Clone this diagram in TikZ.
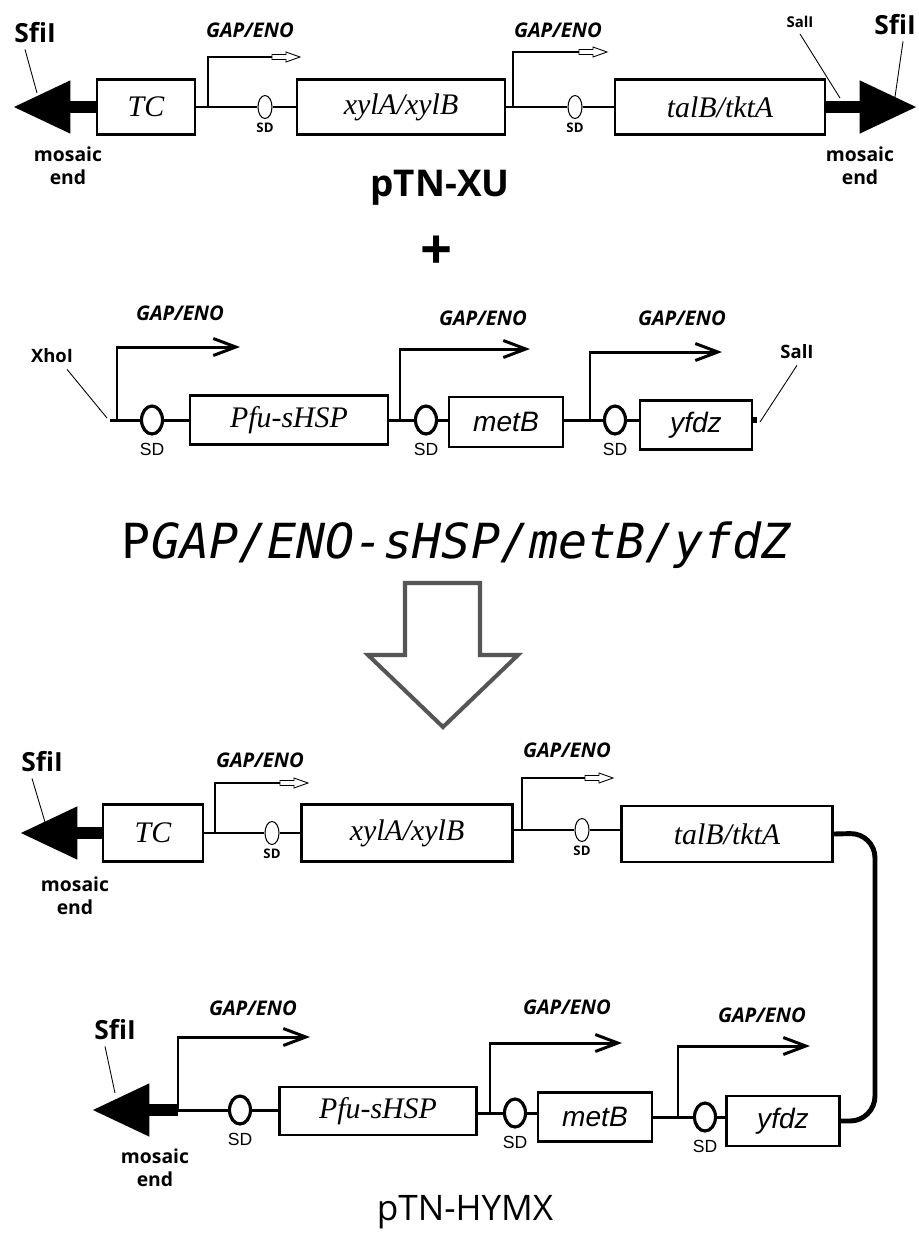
\documentclass[tikz,border=0pt]{standalone}
\usepackage{fontspec}
\setmainfont{Liberation Serif}
\setsansfont{Open Sans}
\newfontfamily\arialfont{Liberation Sans}
\newfontfamily\monofont{DejaVu Sans Mono}
\usepackage{xcolor}
\usetikzlibrary{arrows.meta, positioning, shapes.geometric}

\definecolor{arrowgray}{HTML}{555555}

\tikzset{
	genebox/.style={draw, line width=1.6pt, inner sep=0pt, minimum height=1.1cm},
	serifgene/.style={genebox, font=\fontsize{17}{19}\selectfont\itshape},
	sansgene/.style={genebox, font=\arialfont\fontsize{16}{18}\selectfont\itshape},
	thinline/.style={line width=0.6pt},
	thickline/.style={line width=1.7pt},
	sdthin/.style={draw, ellipse, line width=0.6pt, inner sep=0pt, minimum width=0.28cm, minimum height=0.46cm},
	sdthick/.style={draw, ellipse, line width=1.8pt, inner sep=0pt, minimum width=0.42cm, minimum height=0.56cm},
	endbar/.style={line width=6.5pt, -{Triangle[length=1.15cm, width=1cm]}},
	linker/.style={line width=2.8pt, rounded corners=0.5cm},
	pointer/.style={line width=0.5pt},
	gaplab/.style={font=\sffamily\bfseries\itshape\fontsize{11.5}{13}\selectfont},
	sdsmall/.style={font=\sffamily\bfseries\fontsize{7.5}{8}\selectfont, inner sep=1pt},
	sdlab/.style={font=\arialfont\fontsize{10}{12}\selectfont, inner sep=1pt},
	sitelab/.style={font=\sffamily\bfseries\fontsize{15}{17}\selectfont},
	enzlab/.style={font=\sffamily\bfseries\fontsize{10.5}{12}\selectfont},
	mosaic/.style={font=\sffamily\bfseries\fontsize{11}{13}\selectfont, align=center, inner sep=0pt},
	plasmid/.style={font=\sffamily\bfseries\fontsize{21}{24}\selectfont},
	barb/.style={-{Straight Barb[length=0.45cm, width=0.34cm]}},
	hollowtip/.pic={\draw[line width=0.5pt, fill=white] (-28,-2.5) -- (-14,-2.5) -- (-14,-5) -- (0,0) -- (-14,5) -- (-14,2.5) -- (-28,2.5) -- cycle;}
}

\begin{document}
\begin{tikzpicture}[x=0.02cm, y=-0.02cm]
	
	\path[fill=white] (0,0) rectangle (919,1242);
	\useasboundingbox (0,0) rectangle (919,1242);
	
	% pTN-XU
	\node[serifgene, minimum width=1.96cm] (tc1) at (146,107) {TC};
	\node[serifgene, minimum width=4.16cm] (xyl1) at (401,107) {xylA/xylB};
	\node[serifgene, minimum width=4.2cm] (tal1) at (720,107) {talB/tktA};
	\node[sdthin] (sd1a) at (265,107) {};
	\node[sdthin] (sd1b) at (575,107) {};
	\node[sdsmall, below=1pt of sd1a] {SD};
	\node[sdsmall, below=1pt of sd1b] {SD};
	
	\coordinate (endL1) at (13,107);
	\coordinate (endR1) at (917,107);
	\coordinate (pr1a) at (208,107);
	\coordinate (pr1b) at (513,107);
	
	\draw[endbar] (tc1.west) -- (endL1);
	\draw[endbar] (tal1.east) -- (endR1);
	\draw[thinline] (tc1.east) -- (sd1a.west) (sd1a.east) -- (xyl1.west);
	\draw[thinline] (xyl1.east) -- (sd1b.west) (sd1b.east) -- (tal1.west);
	
	% promoters
	\draw[thinline] (pr1a) |- (272,57);
	\pic at (300,57) {hollowtip};
	\draw[thinline] (pr1b) |- (579,52);
	\pic at (607,52) {hollowtip};
	\node[gaplab] (gap1a) at (250,30) {GAP/ENO};
	\node[gaplab] (gap1b) at (558,30) {GAP/ENO};
	
	% ends and sites
	\node[sitelab] (sfi1L) at (35,33) {SfiI};
	\coordinate (sfi1Lp) at (37,93);
	\draw[pointer] ([xshift=-0.2cm]sfi1L.south) -- (sfi1Lp);
	\node[sitelab] (sfi1R) at (895,25) {SfiI};
	\coordinate (sfi1Rp) at (895,97);
	\draw[pointer] ([xshift=0.16cm]sfi1R.south) -- (sfi1Rp);
	\node[enzlab, font=\sffamily\bfseries\fontsize{8.5}{10}\selectfont] (sal1) at (800,22) {SalI};
	\coordinate (sal1p) at (840,98);
	\draw[pointer] (sal1.south) -- (sal1p);
	\node[mosaic] (mos1L) at (68,166) {mosaic\\end};
	\node[mosaic] (mos1R) at (860,166) {mosaic\\end};
	
	\node[plasmid] (xu) at (440,188) {pTN-XU};
	\node[font=\sffamily\bfseries\fontsize{32}{36}\selectfont] (plus) at (437,253) {+};
	
	% P GAP/ENO cassette
	\coordinate (start2) at (110,420);
	\coordinate (pr2a) at (117,420);
	\coordinate (pr2b) at (400,420);
	\coordinate (pr2c) at (590,420);
	\coordinate (end2) at (757,420);
	\node[sdthick] (sd2a) at (152,420) {};
	\node[sdthick] (sd2b) at (426,420) {};
	\node[sdthick] (sd2c) at (615,420) {};
	\node[serifgene, minimum width=3.96cm, minimum height=0.98cm] (pfu2) at (289,420) {Pfu-sHSP};
	\node[sansgene, minimum width=2.28cm, minimum height=1cm] (met2) at (506,422) {metB};
	\node[sansgene, minimum width=2.24cm, minimum height=0.98cm] (yfd2) at (696,425) {yfdz};
	\node[sdlab, below=3pt of sd2a] {SD};
	\node[sdlab, below=3pt of sd2b] {SD};
	\node[sdlab, below=3pt of sd2c] {SD};
	
	\draw[thickline] (start2) -- (sd2a.west) (sd2a.east) -- (pfu2.west) (pfu2.east) -- (sd2b.west);
	\draw[thickline] (sd2b.east) -- (sd2b.east -| met2.west) (met2.east |- sd2c) -- (sd2c.west) (sd2c.east) -- (sd2c.east -| yfd2.west);
	\draw[line width=3pt] (yfd2.east |- end2) -- (end2);
	
	\draw[thickline, barb] (pr2a) |- (240,347);
	\draw[thickline, barb] (pr2b) |- (530,349);
	\draw[thickline, barb] (pr2c) |- (722,352);
	\node[gaplab] (gap2a) at (180,313) {GAP/ENO};
	\node[gaplab] (gap2b) at (483,318) {GAP/ENO};
	\node[gaplab] (gap2c) at (682,318) {GAP/ENO};
	
	\node[enzlab] (xho2) at (52,356) {XhoI};
	\coordinate (xho2p) at (107,418);
	\draw[pointer] ([xshift=0.3cm]xho2.south) -- (xho2p);
	\node[enzlab] (sal2) at (797,352) {SalI};
	\coordinate (sal2p) at (760,422);
	\draw[pointer] (sal2.south) -- (sal2p);
	
	\node[font=\monofont\fontsize{27.5}{30}\selectfont] (cassette) at (457,545) {P\textit{GAP/ENO-sHSP/metB/yfdZ}};
	
	% big arrow down
	\draw[line width=2.3pt, arrowgray, line join=miter] (405,583) -- (480,583) -- (480,655) -- (518,655) -- (443,727) -- (368,655) -- (405,655) -- cycle;
	
	% pTN-HYMX, first line
	\node[serifgene, minimum width=2cm, minimum height=1.14cm] (tc3) at (153,833) {TC};
	\node[serifgene, minimum width=4.22cm, minimum height=1.14cm] (xyl3) at (407,833) {xylA/xylB};
	\node[serifgene, minimum width=4.22cm, minimum height=1.12cm] (tal3) at (727,834) {talB/tktA};
	\node[sdthin] (sd3a) at (272,833) {};
	\node[sdthin] (sd3b) at (582,830) {};
	\node[sdsmall, below=1pt of sd3a] {SD};
	\node[sdsmall, below=1pt of sd3b] {SD};
	
	\coordinate (endL3) at (20,833);
	\coordinate (pr3a) at (215,833);
	\coordinate (pr3b) at (522,830);
	
	\draw[endbar] (tc3.west) -- (endL3);
	\draw[thinline] (tc3.east) -- (sd3a.west) (sd3a.east) -- (xyl3.west);
	\draw[thinline] (xyl3.east |- sd3b) -- (sd3b.west) (sd3b.east) -- (sd3b.east -| tal3.west);
	
	\draw[thinline] (pr3a) |- (280,783);
	\pic at (308,783) {hollowtip};
	\draw[thinline] (pr3b) |- (585,778);
	\pic at (613,778) {hollowtip};
	\node[gaplab] (gap3a) at (260,760) {GAP/ENO};
	\node[gaplab] (gap3b) at (567,750) {GAP/ENO};
	
	\node[sitelab] (sfi3) at (42,762) {SfiI};
	\coordinate (sfi3p) at (45,822);
	\draw[pointer] ([xshift=-0.2cm]sfi3.south) -- (sfi3p);
	\node[mosaic] (mos3) at (75,896) {mosaic\\end};
	
	% pTN-HYMX, second line
	\coordinate (endL4) at (92,1110);
	\coordinate (bar4) at (178,1110);
	\node[sdthick] (sd4a) at (240,1110) {};
	\node[sdthick] (sd4b) at (515,1113) {};
	\node[sdthick] (sd4c) at (705,1117) {};
	\node[serifgene, minimum width=3.94cm, minimum height=0.96cm] (pfu4) at (378,1111) {Pfu-sHSP};
	\node[sansgene, minimum width=2.28cm, minimum height=0.98cm] (met4) at (595,1117) {metB};
	\node[sansgene, minimum width=2.26cm, minimum height=1cm] (yfd4) at (783,1121) {yfdz};
	\node[sdlab, below=3pt of sd4a] {SD};
	\node[sdlab, below=3pt of sd4b] {SD};
	\node[sdlab, below=3pt of sd4c] {SD};
	
	\draw[endbar] (bar4) -- (endL4);
	\draw[thickline] (bar4) -- (sd4a.west) (sd4a.east) -- (sd4a.east -| pfu4.west);
	\draw[thickline] (pfu4.east |- sd4b) -- (sd4b.west) (sd4b.east) -- (sd4b.east -| met4.west);
	\draw[thickline] (met4.east |- sd4c) -- (sd4c.west) (sd4c.east) -- (sd4c.east -| yfd4.west);
	
	\coordinate (pr4b) at (490,1113);
	\coordinate (pr4c) at (678,1117);
	\draw[thickline, barb] (bar4) |- (310,1037);
	\draw[thickline, barb] (pr4b) |- (622,1043);
	\draw[thickline, barb] (pr4c) |- (810,1046);
	\node[gaplab] (gap4a) at (253,1008) {GAP/ENO};
	\node[gaplab] (gap4b) at (567,1007) {GAP/ENO};
	\node[gaplab] (gap4c) at (762,1015) {GAP/ENO};
	
	\node[sitelab] (sfi4) at (115,1030) {SfiI};
	\coordinate (sfi4p) at (115,1093);
	\draw[pointer] ([xshift=-0.2cm]sfi4.south) -- (sfi4p);
	\node[mosaic] (mos4) at (155,1168) {mosaic\\end};
	
	% joining talB/tktA to yfdz
	\draw[linker] (tal3.east) -- (875,833) -- (875,1121) -- (yfd4.east);
	
	\node[font=\sffamily\fontsize{20}{24}\selectfont] (hymx) at (465,1212) {pTN-HYMX};
	
\end{tikzpicture}
\end{document}
